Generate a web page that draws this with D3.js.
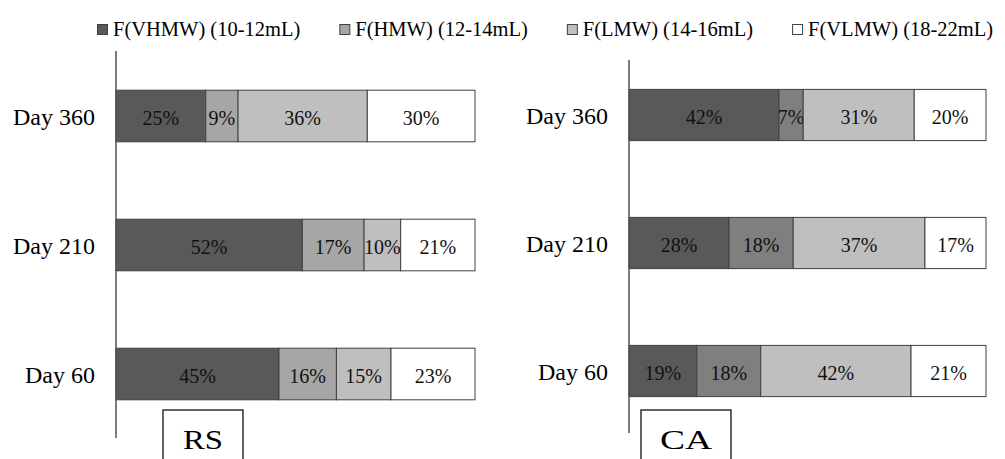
<!DOCTYPE html>
<html>
<head>
<meta charset="utf-8">
<script src="https://cdn.jsdelivr.net/npm/d3@7"></script>
<style>
  html, body { margin: 0; padding: 0; background: #fff; }
  svg { display: block; }
  svg text { font-family: "Liberation Serif", "Times New Roman", Times, "DejaVu Serif", "Noto Serif", serif; }
</style>
</head>
<body>
<svg id="chart" width="1005" height="459"></svg>
<script>
// ---- data ----
const categories = ["Day 360", "Day 210", "Day 60"];
const seriesNames = ["F(VHMW) (10-12mL)", "F(HMW) (12-14mL)", "F(LMW) (14-16mL)", "F(VLMW) (18-22mL)"];
const seriesKeys = ["VHMW", "HMW", "LMW", "VLMW"];

// RS panel (percent)
const rsVHMW = [25, 51.9, 45.4];
const rsHMW  = [9, 17.2, 16.0];
const rsLMW  = [36, 10.2, 15.2];
const rsVLMW = [30, 20.7, 23.4];

// CA panel (percent)
const caVHMW = [42, 28, 19];
const caHMW  = [6.8, 18, 17.9];
const caLMW  = [31.1, 36.9, 42.1];
const caVLMW = [20.1, 17.1, 21];

const panelNames = ["RS", "CA"];

// ---- styles ----
const legendColors = ["#595959", "#a6a6a6", "#bfbfbf", "#ffffff"];
const rsColors = ["#595959", "#a6a6a6", "#bfbfbf", "#ffffff"];
const caColors = ["#595959", "#7f7f7f", "#bfbfbf", "#ffffff"];

const svg = d3.select("#chart");

function buildRows(a, b, c, d) {
  return categories.map((cat, i) => ({ cat, VHMW: a[i], HMW: b[i], LMW: c[i], VLMW: d[i] }));
}

const panels = [
  { name: panelNames[0], rows: buildRows(rsVHMW, rsHMW, rsLMW, rsVLMW), colors: rsColors,
    x0: 116, x1: 475, yr: [51.5, 438.5], axisY: [51, 438], box: [163, 243], labelW: 40 },
  { name: panelNames[1], rows: buildRows(caVHMW, caHMW, caLMW, caVLMW), colors: caColors,
    x0: 629, x1: 986, yr: [51, 435], axisY: [60, 433], box: [641, 731], labelW: 52 }
];

const stack = d3.stack().keys(seriesKeys);

panels.forEach(p => {
  const g = svg.append("g");
  const x = d3.scaleLinear().domain([0, 100]).range([p.x0, p.x1]);
  const y = d3.scaleBand().domain(categories).range(p.yr).paddingInner(0.6).paddingOuter(0.3);
  const layers = stack(p.rows);

  layers.forEach((layer, li) => {
    const lg = g.append("g");
    lg.selectAll("rect").data(layer).join("rect")
      .attr("x", d => x(d[0]))
      .attr("y", d => y(d.data.cat))
      .attr("width", d => x(d[1]) - x(d[0]))
      .attr("height", y.bandwidth())
      .attr("fill", p.colors[li])
      .attr("stroke", "#404040")
      .attr("stroke-width", 1);
    lg.selectAll("text").data(layer).join("text")
      .attr("x", d => (x(d[0]) + x(d[1])) / 2)
      .attr("y", d => y(d.data.cat) + y.bandwidth() / 2)
      .attr("dy", "0.45em")
      .attr("text-anchor", "middle")
      .attr("font-size", 20)
      .attr("fill", "#111")
      .text(d => Math.round(d[1] - d[0]) + "%");
  });

  // category axis
  const axis = d3.axisLeft(y).tickSize(0).tickPadding(21);
  const ag = g.append("g").attr("transform", `translate(${p.x0},0)`).call(axis);
  ag.attr("font-family", null);
  ag.select(".domain").remove();
  ag.selectAll("text")
    .attr("font-size", 24)
    .attr("fill", "#000")
    .attr("dy", "0.36em");
  g.append("line")
    .attr("x1", p.x0).attr("x2", p.x0)
    .attr("y1", p.axisY[0]).attr("y2", p.axisY[1])
    .attr("stroke", "#505050").attr("stroke-width", 1.5);

  // panel label box
  g.append("rect")
    .attr("x", p.box[0]).attr("y", 410)
    .attr("width", p.box[1] - p.box[0]).attr("height", 60)
    .attr("fill", "#fff").attr("stroke", "#111").attr("stroke-width", 1.3);
  g.append("text")
    .attr("x", (p.box[0] + p.box[1]) / 2).attr("y", 449)
    .attr("text-anchor", "middle")
    .attr("font-size", 28)
    .attr("textLength", p.labelW)
    .attr("lengthAdjust", "spacingAndGlyphs")
    .attr("fill", "#000")
    .text(p.name);
});

// ---- legend ----
const lgd = svg.append("g");
let lx = 97;
seriesNames.forEach((name, i) => {
  const item = lgd.append("g").attr("transform", `translate(${lx},0)`);
  item.append("rect")
    .attr("x", 0.5).attr("y", 24.5).attr("width", 10).attr("height", 10)
    .attr("fill", legendColors[i]).attr("stroke", "#404040").attr("stroke-width", 1);
  const t = item.append("text")
    .attr("x", 16).attr("y", 36)
    .attr("font-size", 20.5)
    .attr("fill", "#000")
    .text(name);
  lx += 16 + t.node().getComputedTextLength() + 39;
});
</script>
</body>
</html>
